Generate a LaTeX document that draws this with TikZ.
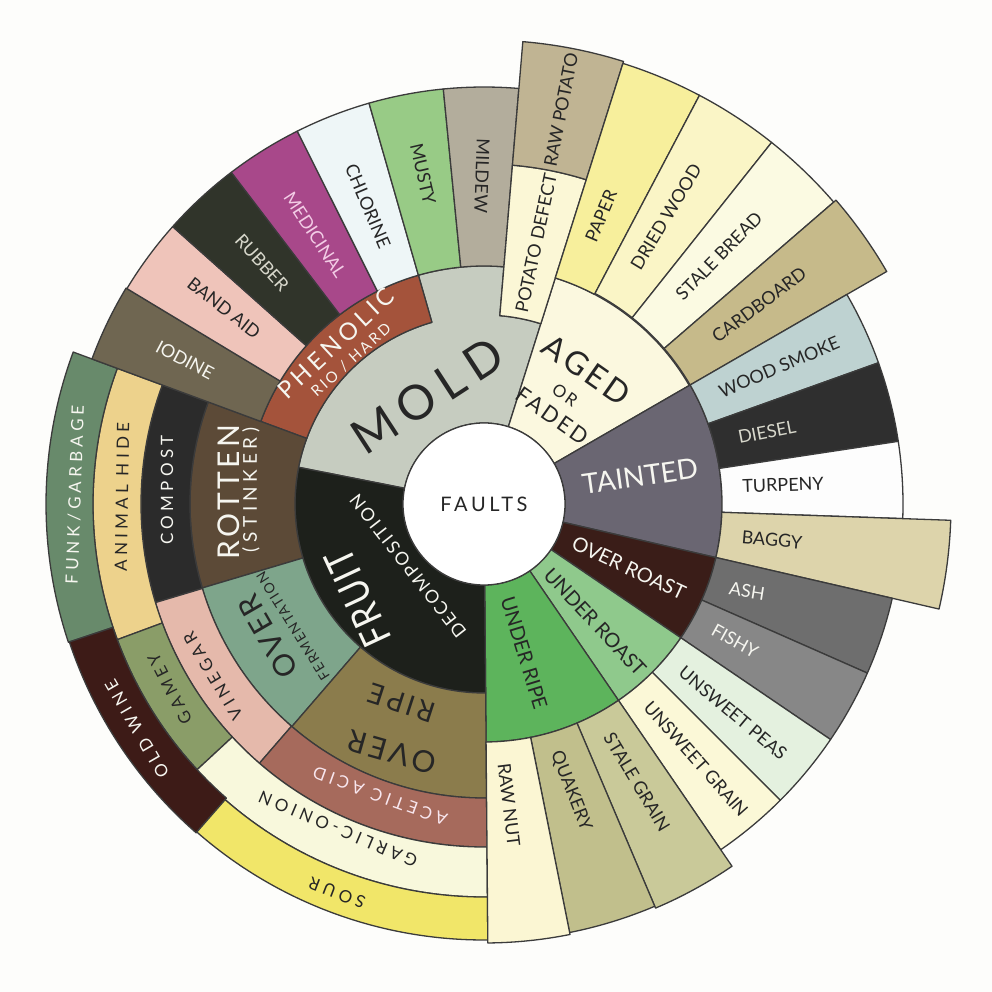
\documentclass[tikz,border=0pt]{standalone}
\usepackage{fontspec}
\setmainfont{Lato}
\newfontfamily\wideA[LetterSpace=25]{Lato}
\newfontfamily\wideB[LetterSpace=12]{Lato}
\newfontfamily\wideC[LetterSpace=18]{Lato}
\newfontfamily\condF[LetterSpace=5,FakeStretch=0.85]{Lato}
\definecolor{bg}{HTML}{FDFDFB}
\definecolor{lineC}{HTML}{3B3B3B}
\definecolor{ink}{HTML}{262626}
\definecolor{paperW}{HTML}{F6F6F0}
\definecolor{cMold}{HTML}{C6CCC0}
\definecolor{cAged}{HTML}{FBF8DF}
\definecolor{cTainted}{HTML}{6A6672}
\definecolor{cOverRoast}{HTML}{3A1D18}
\definecolor{cUnderRoast}{HTML}{8FC98C}
\definecolor{cUnderRipe}{HTML}{5DB45C}
\definecolor{cFruit}{HTML}{1D201B}
\definecolor{cPhenolic}{HTML}{A4533B}
\definecolor{cRotten}{HTML}{5C4A37}
\definecolor{cOverFerm}{HTML}{7EA58B}
\definecolor{cOverRipe}{HTML}{8B7C4C}
\definecolor{cCompost}{HTML}{2B2B2B}
\definecolor{cVinegar}{HTML}{E5B9AB}
\definecolor{cAcetic}{HTML}{A66A5C}
\definecolor{cHide}{HTML}{EDD28C}
\definecolor{cGamey}{HTML}{8A9D68}
\definecolor{cGarlic}{HTML}{F8F8DC}
\definecolor{cFunk}{HTML}{688A6B}
\definecolor{cOldWine}{HTML}{3D1B17}
\definecolor{cSour}{HTML}{F1E669}
\definecolor{cIodine}{HTML}{6F6651}
\definecolor{cBandAid}{HTML}{EFC4BA}
\definecolor{cRubber}{HTML}{30342A}
\definecolor{cMedicinal}{HTML}{A8488A}
\definecolor{cChlorine}{HTML}{EEF6F7}
\definecolor{cMusty}{HTML}{98CB86}
\definecolor{cMildew}{HTML}{B3AD9C}
\definecolor{cPotDef}{HTML}{FBF7D6}
\definecolor{cRawPot}{HTML}{C0B493}
\definecolor{cPaper}{HTML}{F7EF9C}
\definecolor{cDriedWood}{HTML}{FAF5C6}
\definecolor{cStaleBread}{HTML}{FBFAE2}
\definecolor{cCardboard}{HTML}{C6BA8A}
\definecolor{cWoodSmoke}{HTML}{BED2D1}
\definecolor{cDiesel}{HTML}{2F2F2F}
\definecolor{cTurpeny}{HTML}{FDFDFD}
\definecolor{cBaggy}{HTML}{DDD4AB}
\definecolor{cAsh}{HTML}{6E6E6E}
\definecolor{cFishy}{HTML}{878787}
\definecolor{cPeas}{HTML}{E4F1DF}
\definecolor{cUnGrain}{HTML}{FBF8D7}
\definecolor{cStaleGrain}{HTML}{C9C999}
\definecolor{cQuakery}{HTML}{C1BF8C}
\definecolor{cRawNut}{HTML}{FBF6D3}
\definecolor{cRubberTxt}{HTML}{D8D8CC}
\definecolor{cMedTxt}{HTML}{F3CDE6}
\definecolor{cAceticTxt}{HTML}{F8E6EE}
\newcommand{\ringseg}[5]{\filldraw[segline,fill=#5] (#1:#3pt) arc[start angle=#1,end angle=#2,radius=#3pt] -- (#2:#4pt) arc[start angle=#2,end angle=#1,radius=#4pt] -- cycle;}
\tikzset{
  segline/.style={draw=lineC, line width=1.3pt, line join=round},
  lab/.style={inner sep=0pt, text=ink, font=\fontsize{18}{20}\selectfont},
  labw/.style={lab, text=paperW},
  sp/.style={inner sep=0pt, text=ink, font=\wideA\fontsize{17}{20}\selectfont},
  spw/.style={sp, text=paperW},
}
\begin{document}
\begin{tikzpicture}[x=1pt,y=1pt]
\useasboundingbox[fill=bg] (-484,-488) rectangle (508,504);
% MOLD (irregular outer edge)
\filldraw[segline, fill=cMold] (72.5:81pt) arc[start angle=72.5,end angle=168.8,radius=81pt] -- (168.8:189pt) arc[start angle=168.8,end angle=106,radius=189pt] -- (106:238pt) arc[start angle=106,end angle=85.2,radius=238pt] -- (85.2:189pt) arc[start angle=85.2,end angle=72.5,radius=189pt] -- cycle;
% level 1
\ringseg{30}{72.5}{81}{237}{cAged}
\ringseg{-13}{30}{81}{238}{cTainted}
\ringseg{-34.2}{-13}{81}{238}{cOverRoast}
\ringseg{-55.6}{-34.2}{81}{238}{cUnderRoast}
\ringseg{-89.5}{-55.6}{81}{238}{cUnderRipe}
\ringseg{168.8}{270.5}{81}{189}{cFruit}
% level 2 inner bands
\ringseg{106}{159.7}{189}{238}{cPhenolic}
\ringseg{159.7}{196.6}{189}{294}{cRotten}
\ringseg{196.6}{229.2}{189}{294}{cOverFerm}
\ringseg{229.2}{270.5}{189}{294}{cOverRipe}
\ringseg{159.7}{196.7}{294}{343}{cCompost}
\ringseg{196.7}{229.1}{294}{343}{cVinegar}
\ringseg{229.1}{270.5}{294}{343}{cAcetic}
\ringseg{159.7}{200.3}{343}{391}{cHide}
\ringseg{200.3}{222.8}{343}{391}{cGamey}
\ringseg{222.8}{270.5}{343}{393}{cGarlic}
\ringseg{159.7}{198.4}{391}{438}{cFunk}
\ringseg{198.4}{228.8}{391}{437}{cOldWine}
\ringseg{228.8}{270.5}{393}{436}{cSour}
% upper outer
\ringseg{148.9}{159.7}{238}{418}{cIodine}
\ringseg{138.3}{148.9}{238}{417}{cBandAid}
\ringseg{127.3}{138.3}{238}{417}{cRubber}
\ringseg{116.6}{127.3}{238}{417}{cMedicinal}
\ringseg{106}{116.6}{238}{417}{cChlorine}
\ringseg{95.6}{106}{238}{417}{cMusty}
\ringseg{85.2}{95.6}{238}{417}{cMildew}
\ringseg{72.5}{85.2}{189}{340}{cPotDef}
\ringseg{72.5}{85.2}{340}{464}{cRawPot}
\ringseg{62.2}{72.5}{237}{462}{cPaper}
\ringseg{51.5}{62.2}{238}{462}{cDriedWood}
\ringseg{40.8}{51.5}{238}{462}{cStaleBread}
\ringseg{30}{40.8}{238}{465}{cCardboard}
% right outer
\ringseg{19.7}{30}{238}{419}{cWoodSmoke}
\ringseg{8.6}{19.7}{238}{419}{cDiesel}
\ringseg{-2}{8.6}{238}{419}{cTurpeny}
\ringseg{-13}{-2}{238}{467}{cBaggy}
\ringseg{-23.8}{-13}{238}{419}{cAsh}
\ringseg{-34.2}{-23.8}{238}{419}{cFishy}
\ringseg{-45}{-34.2}{238}{419}{cPeas}
\ringseg{-55.6}{-45}{238}{419}{cUnGrain}
\ringseg{-67}{-55.6}{238}{439}{cStaleGrain}
\ringseg{-78.7}{-67}{238}{437}{cQuakery}
\ringseg{-89.5}{-78.7}{238}{439}{cRawNut}
% centre
\filldraw[segline, fill=white] (0,0) circle[radius=81pt];
% ---- labels ----
\node[inner sep=0pt, text=ink, font=\wideC\fontsize{20}{22}\selectfont] (faults) at (0,0) {FAULTS};
\node[inner sep=0pt, text=ink, font=\wideC\fontsize{48}{50}\selectfont, rotate=33] (mold) at (-57,108) {MOLD};
\node[inner sep=0pt, text=ink, font=\wideB\fontsize{32}{34}\selectfont, rotate=-35] (aged) at (103,134) {AGED};
\node[inner sep=0pt, text=ink, font=\wideB\fontsize{17}{20}\selectfont, rotate=-35] (agedor) at (81,109) {OR};
\node[inner sep=0pt, text=ink, font=\wideB\fontsize{22}{24}\selectfont, rotate=-35] (agedfaded) at (68,88) {FADED};
\node[inner sep=0pt, text=paperW, font=\fontsize{28}{30}\selectfont, rotate=8] (tainted) at (156,28) {TAINTED};
\node[inner sep=0pt, text=paperW, font=\condF\fontsize{40}{42}\selectfont, rotate=115] (fruit) at (-126,-94) {FRUIT};
\node[inner sep=0pt, text=paperW, font=\wideB\fontsize{18}{20}\selectfont, rotate=128] (decomp) at (-76,-62) {DECOMPOSITION};
\node[inner sep=0pt, text=paperW, font=\wideB\fontsize{30}{32}\selectfont, rotate=90] (rotten) at (-255,12) {ROTTEN};
\node[inner sep=0pt, text=paperW, font=\wideA\fontsize{19}{20}\selectfont, rotate=90] (stinker) at (-233,14) {(STINKER)};
\node[inner sep=0pt, text=ink, font=\wideB\fontsize{30}{32}\selectfont, rotate=120] (overf) at (-216,-133) {OVER};
\node[inner sep=0pt, text=ink, font=\wideB\fontsize{14}{16}\selectfont, rotate=122] (ferment) at (-191,-122) {FERMENTATION};
\node[inner sep=0pt, text=ink, font=\wideB\fontsize{30}{32}\selectfont, rotate=164] (overr) at (-92,-248) {OVER};
\node[inner sep=0pt, text=ink, font=\wideB\fontsize{28}{30}\selectfont, rotate=162] (ripe) at (-82,-199) {RIPE};
\node[inner sep=0pt, text=paperW, font=\wideC\fontsize{24}{26}\selectfont, rotate=43] (phenolic) at (-148,161) {PHENOLIC};
\node[inner sep=0pt, text=paperW, font=\wideC\fontsize{15}{17}\selectfont, rotate=42] (riohard) at (-133,144) {RIO / HARD};
\node[lab, font=\fontsize{20}{22}\selectfont, rotate=-73] (underripe) at (40,-149) {UNDER RIPE};
\node[lab, font=\fontsize{20}{22}\selectfont, rotate=-47] (underroast) at (111,-118) {UNDER ROAST};
\node[labw, font=\fontsize{20}{22}\selectfont, rotate=-25] (overroast) at (145,-64) {OVER ROAST};
% outer labels, top
\node[lab, rotate=-92] (mildew) at (-2,328) {MILDEW};
\node[lab, rotate=-77] (musty) at (-61,330) {MUSTY};
\node[lab, rotate=-67] (chlorine) at (-116,298) {CHLORINE};
\node[lab, text=cMedTxt, rotate=-57] (medicinal) at (-169,269) {MEDICINAL};
\node[lab, text=cRubberTxt, rotate=-47.5] (rubber) at (-222,241) {RUBBER};
\node[lab, rotate=-38] (bandaid) at (-260,196) {BAND AID};
\node[labw, rotate=-28] (iodine) at (-299,144) {IODINE};
% left
\node[spw, rotate=88] (funk) at (-409,9) {FUNK/GARBAGE};
\node[sp, rotate=89] (hide) at (-362,7) {ANIMAL HIDE};
\node[spw, rotate=90] (compost) at (-317,14) {COMPOST};
\node[spw, rotate=120] (oldwine) at (-347,-225) {OLD WINE};
\node[sp, rotate=117] (gamey) at (-314,-185) {GAMEY};
\node[sp, rotate=121] (vinegar) at (-271,-172) {VINEGAR};
\node[spw, text=cAceticTxt, rotate=160] (acetic) at (-104,-292) {ACETIC ACID};
\node[sp, rotate=157] (garlic) at (-146,-325) {GARLIC-ONION};
\node[sp, rotate=159] (sour) at (-147,-389) {SOUR};
% bottom right
\node[lab, rotate=-83] (rawnut) at (25,-301) {RAW NUT};
\node[lab, rotate=-68.6] (quakery) at (87,-287) {QUAKERY};
\node[lab, rotate=-59] (stalegrain) at (153,-278) {STALE GRAIN};
\node[lab, rotate=-48.5] (unsgrain) at (212,-255) {UNSWEET GRAIN};
\node[lab, rotate=-40] (unspeas) at (249,-209) {UNSWEET PEAS};
\node[labw, rotate=-29] (fishy) at (251,-137) {FISHY};
\node[labw, rotate=-9] (ash) at (263,-87) {ASH};
\node[lab, rotate=-5] (baggy) at (288,-36) {BAGGY};
\node[lab, rotate=2] (turpeny) at (299,19) {TURPENY};
\node[lab, text=cRubberTxt, rotate=11] (diesel) at (283,72) {DIESEL};
\node[lab, rotate=23] (woodsmoke) at (295,137) {WOOD SMOKE};
% top right
\node[lab, rotate=36.5] (cardboard) at (275,199) {CARDBOARD};
\node[lab, rotate=45.6] (stalebread) at (235,248) {STALE BREAD};
\node[lab, rotate=59] (driedwood) at (182,287) {DRIED WOOD};
\node[lab, rotate=67] (paper) at (117,288) {PAPER};
\node[lab, rotate=78] (potdef) at (52,261) {POTATO DEFECT};
\node[lab, rotate=79] (rawpot) at (77,394) {RAW POTATO};
\end{tikzpicture}
\end{document}
